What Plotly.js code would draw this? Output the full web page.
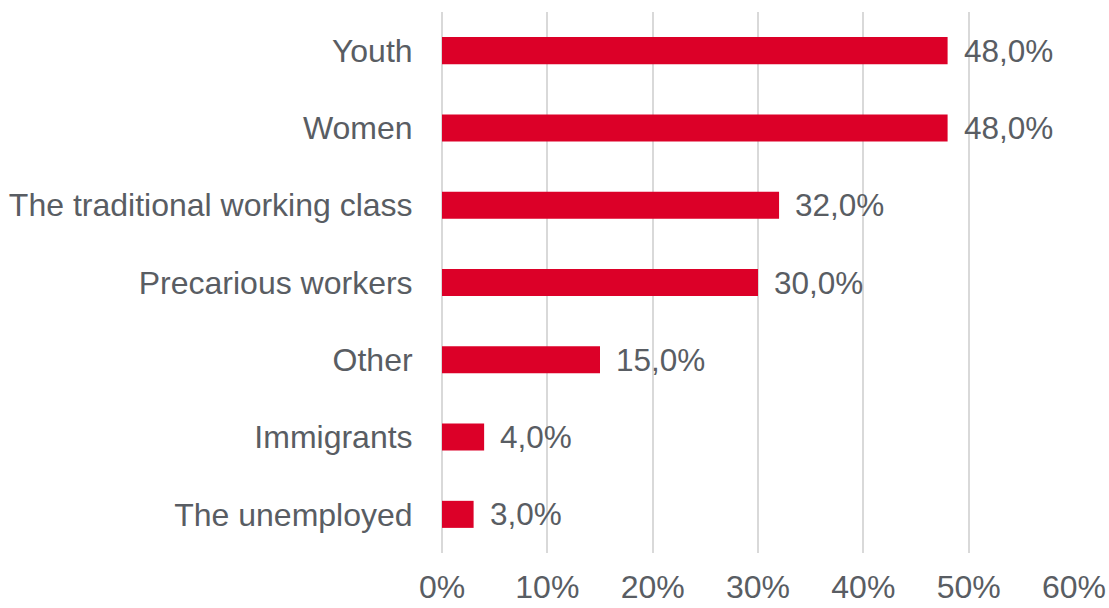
<!DOCTYPE html>
<html>
<head>
<meta charset="utf-8">
<script src="https://cdn.plot.ly/plotly-3.0.1.min.js"></script>
<style>html,body{margin:0;padding:0;background:#fff;}#chart{width:1109px;height:608px;}</style>
</head>
<body>
<div id="chart"></div>
<script>
const categories = ["Youth", "Women", "The traditional working class", "Precarious workers", "Other", "Immigrants", "The unemployed"];
const values = [48.0, 48.0, 32.0, 30.0, 15.0, 4.0, 3.0];
const tickVals = [0, 10, 20, 30, 40, 50, 60];
const tickText = ["0%", "10%", "20%", "30%", "40%", "50%", "60%"];

const fontFam = "Liberation Sans, Arial, sans-serif";
const textColor = "#595d63";

const trace = {
  type: "bar",
  orientation: "h",
  y: categories,
  x: values,
  marker: {color: "#DC0028"},
  hoverinfo: "skip"
};

const annotations = categories.map((c, i) => ({
  x: values[i], y: c, xref: "x", yref: "y",
  text: values[i].toFixed(1).replace(".", ",") + "%",
  showarrow: false, xanchor: "left", yanchor: "middle", xshift: 14,
  font: {family: fontFam, size: 31.5, color: textColor}
}));

const layout = {
  width: 1109, height: 608,
  margin: {l: 442, r: 35, t: 12, b: 55},
  paper_bgcolor: "#fff", plot_bgcolor: "#fff",
  showlegend: false,
  bargap: 0.65,
  font: {family: fontFam, size: 32, color: textColor},
  xaxis: {
    range: [0, 60], tickvals: tickVals, ticktext: tickText,
    showgrid: true, gridcolor: "#d9d9d9", gridwidth: 2,
    zeroline: true, zerolinecolor: "#d9d9d9", zerolinewidth: 2, showline: false,
    ticks: "outside", ticklen: 6, tickcolor: "rgba(0,0,0,0)",
    tickfont: {family: fontFam, size: 32, color: textColor},
    fixedrange: true
  },
  yaxis: {
    autorange: "reversed", showgrid: false, zeroline: false, showline: false,
    ticks: "outside", ticklen: 22, tickcolor: "rgba(0,0,0,0)",
    tickfont: {family: fontFam, size: 32, color: textColor},
    fixedrange: true
  },
  annotations: annotations
};

Plotly.newPlot("chart", [trace], layout, {displayModeBar: false, staticPlot: true});
</script>
</body>
</html>
